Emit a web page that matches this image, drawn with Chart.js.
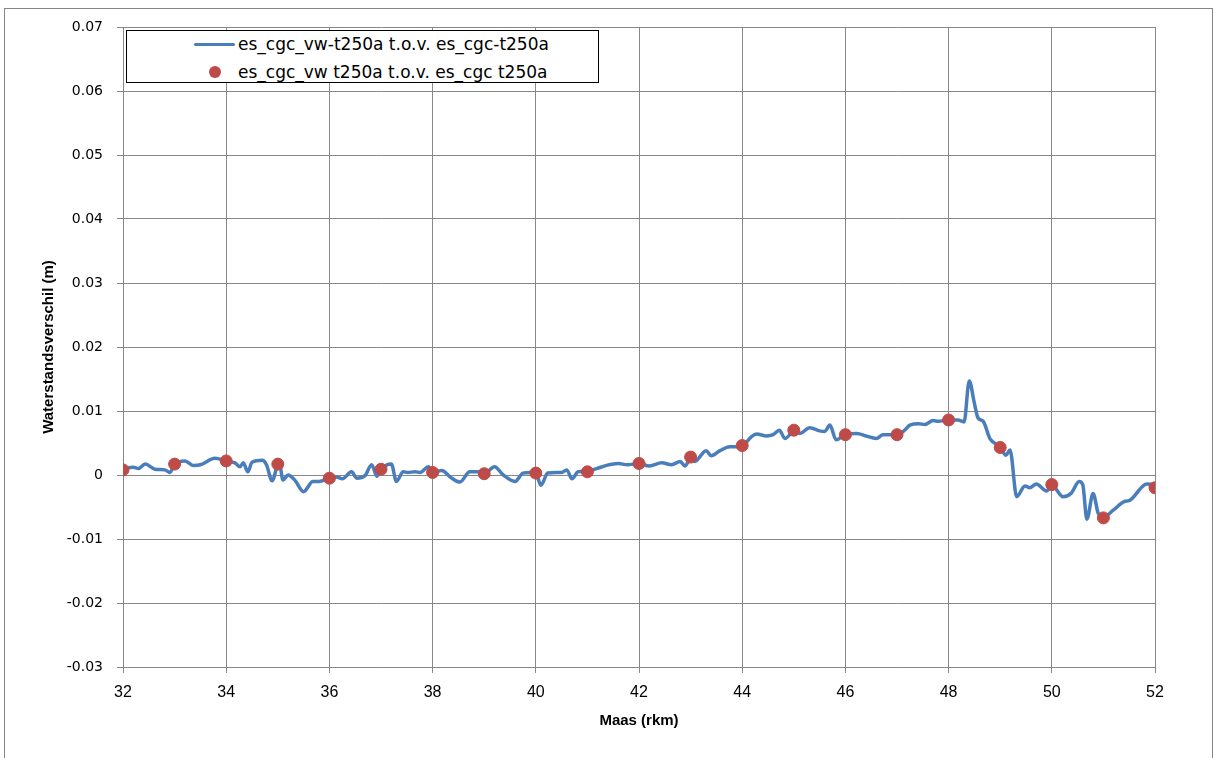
<!DOCTYPE html>
<html>
<head>
<meta charset="utf-8">
<script src="https://cdn.jsdelivr.net/npm/chart.js@4/dist/chart.umd.min.js"></script>
<style>
  html, body { margin: 0; padding: 0; background: #fff; }
  #wrap { position: relative; width: 1214px; height: 758px; }
  #legend {
    position: absolute; left: 126px; top: 30px; width: 471px; height: 51px;
    border: 1px solid #000; background: #fff; overflow: hidden;
    font: 17px "DejaVu Sans", Verdana, sans-serif; color: #000;
  }
  .row { position: absolute; left: 0; height: 20px; line-height: 20px; white-space: nowrap; }
  .row .txt { position: absolute; left: 111px; top: 0; }
  .row .ln { position: absolute; left: 67px; top: 9px; width: 41px; height: 3px; background: #4a7ebb; border-radius: 2px; }
  .row .dot { position: absolute; left: 82px; top: 4px; width: 12px; height: 12px; border-radius: 50%; background: #be4b48; }
</style>
</head>
<body>
<div id="wrap">
  <canvas id="chart" width="1214" height="758"></canvas>
  <div id="legend">
    <div class="row" style="top:3px"><span class="ln"></span><span class="txt">es_cgc_vw-t250a t.o.v. es_cgc-t250a</span></div>
    <div class="row" style="top:31px"><span class="dot"></span><span class="txt">es_cgc_vw t250a t.o.v. es_cgc t250a</span></div>
  </div>
</div>
<script>
// doorlopende lijn (rkm, waterstandsverschil in m)
const lineKm = [
  32.0, 32.2, 32.3, 32.43, 32.62, 32.81, 32.91, 33.0, 33.2, 33.36, 33.5, 33.78,
  34.0, 34.17, 34.27, 34.33, 34.42, 34.5, 34.7, 34.78, 34.89, 35.0, 35.03, 35.1,
  35.2, 35.33, 35.5, 35.68, 35.8, 36.0, 36.14, 36.25, 36.43, 36.53, 36.69, 36.82,
  36.92, 37.0, 37.2, 37.3, 37.43, 37.52, 37.66, 37.76, 37.92, 38.0, 38.18, 38.34,
  38.53, 38.72, 38.88, 39.0, 39.2, 39.37, 39.6, 39.75, 39.9, 40.0, 40.1, 40.23,
  40.4, 40.5, 40.6, 40.7, 40.82, 41.0, 41.18, 41.37, 41.6, 41.77, 42.0, 42.2,
  42.44, 42.63, 42.8, 42.89, 43.0, 43.08, 43.3, 43.4, 43.57, 43.76, 43.9, 44.0,
  44.18, 44.28, 44.47, 44.6, 44.72, 44.83, 45.0, 45.12, 45.31, 45.5, 45.6, 45.7,
  45.82, 46.0, 46.22, 46.4, 46.6, 46.73, 47.0, 47.15, 47.25, 47.42, 47.54, 47.7,
  47.8, 48.0, 48.18, 48.3, 48.4, 48.5, 48.57, 48.67, 48.8, 49.0, 49.11, 49.19,
  49.32, 49.48, 49.57, 49.7, 49.9, 50.0, 50.22, 50.38, 50.53, 50.6, 50.68, 50.8,
  50.9, 51.0, 51.19, 51.42, 51.5, 51.84, 52.0
];
const lineVal = [
  0.0010, 0.0012, 0.0010, 0.0017, 0.0009, 0.0008, 0.0004, 0.0017, 0.0022, 0.0015, 0.0016, 0.0026,
  0.0022, 0.0019, 0.0013, 0.0019, 0.0005, 0.0020, 0.0023, 0.0016, -0.0009, 0.0017, 0.0019, -0.0008,
  0.0000, -0.0008, -0.0026, -0.0010, -0.0010, -0.0005, -0.0003, -0.0006, 0.0005, -0.0005, -0.0001, 0.0016,
  -0.0002, 0.0009, 0.0017, -0.0010, 0.0005, 0.0004, 0.0005, 0.0004, 0.0013, 0.0004, 0.0007, -0.0003,
  -0.0011, 0.0005, 0.0005, 0.0002, 0.0013, 0.0000, -0.0010, 0.0003, 0.0004, 0.0003, -0.0016, 0.0003,
  0.0004, 0.0004, 0.0008, -0.0006, 0.0005, 0.0006, 0.0010, 0.0015, 0.0018, 0.0016, 0.0018, 0.0014,
  0.0019, 0.0016, 0.0021, 0.0014, 0.0026, 0.0021, 0.0038, 0.0030, 0.0038, 0.0044, 0.0044, 0.0045,
  0.0060, 0.0064, 0.0061, 0.0063, 0.0070, 0.0057, 0.0068, 0.0065, 0.0074, 0.0069, 0.0068, 0.0078,
  0.0055, 0.0063, 0.0065, 0.0061, 0.0057, 0.0063, 0.0063, 0.0070, 0.0078, 0.0080, 0.0079, 0.0085,
  0.0084, 0.0086, 0.0086, 0.0083, 0.0147, 0.0112, 0.0089, 0.0084, 0.0057, 0.0044, 0.0031, 0.0039,
  -0.0034, -0.0017, -0.0020, -0.0014, -0.0025, -0.0016, -0.0034, -0.0028, -0.0010, -0.0015, -0.0069, -0.0029,
  -0.0060, -0.0066, -0.0055, -0.0041, -0.0040, -0.0014, -0.0015
];

// punten per hele km
const dotKm  = [32, 33, 34, 35, 36, 37, 38, 39, 40, 41, 42, 43, 44, 45, 46, 47, 48, 49, 50, 51, 52];
const dotVal = [
  0.0008, 0.0017, 0.0022, 0.0017, -0.0005, 0.0009, 0.0004, 0.0002, 0.0003, 0.0005, 0.0018,
  0.0028, 0.0046, 0.0070, 0.0063, 0.0063, 0.0086, 0.0043, -0.0015, -0.0067, -0.0020
];

const seriesNames = [
  'es_cgc_vw-t250a t.o.v. es_cgc-t250a',
  'es_cgc_vw t250a t.o.v. es_cgc t250a'
];

const GRID = '#888888';

// kader rond de hele grafiek
const outerFrame = {
  id: 'outerFrame',
  beforeDraw(chart) {
    const c = chart.ctx;
    c.save();
    c.fillStyle = '#fff';
    c.fillRect(0, 0, chart.width, chart.height);
    c.strokeStyle = '#868686';
    c.lineWidth = 1;
    c.strokeRect(4.5, 8.5, 1208, 760);
    c.restore();
  }
};

new Chart(document.getElementById('chart'), {
  type: 'scatter',
  data: {
    datasets: [
      {
        label: seriesNames[0],
        data: lineKm.map((x, i) => ({ x, y: lineVal[i] })),
        showLine: true,
        borderColor: '#4a7ebb',
        borderWidth: 3.5,
        pointRadius: 0,
        cubicInterpolationMode: 'monotone',
        order: 2
      },
      {
        label: seriesNames[1],
        data: dotKm.map((x, i) => ({ x, y: dotVal[i] })),
        showLine: false,
        backgroundColor: '#be4b48',
        borderColor: '#be4b48',
        pointRadius: 6,
        order: 1
      }
    ]
  },
  options: {
    responsive: false,
    animation: false,
    layout: { padding: { left: 0, top: 27, right: 59, bottom: 0 } },
    plugins: {
      legend: { display: false },
      tooltip: { enabled: false }
    },
    scales: {
      x: {
        type: 'linear',
        min: 32, max: 52,
        afterFit: s => { s.height = 91; },
        ticks: {
          stepSize: 2,
          padding: 10,
          color: '#000',
          font: { family: '"Liberation Sans", Arial, sans-serif', size: 16 }
        },
        grid: { color: GRID, tickColor: GRID, tickLength: 6 },
        border: { color: GRID },
        title: {
          display: true,
          text: 'Maas (rkm)',
          color: '#000',
          padding: { top: 0, bottom: 28 },
          font: { family: '"Liberation Sans", Arial, sans-serif', size: 15, weight: 'bold' }
        }
      },
      y: {
        min: -0.03, max: 0.07,
        afterFit: s => { s.width = 123; },
        ticks: {
          stepSize: 0.01,
          padding: 14,
          color: '#000',
          font: { family: '"DejaVu Sans", Verdana, sans-serif', size: 14 },
          callback: v => String(Math.round(v * 100) / 100)
        },
        grid: { color: GRID, tickColor: GRID, tickLength: 6 },
        border: { color: GRID },
        title: {
          display: true,
          text: 'Waterstandsverschil (m)',
          color: '#000',
          padding: { top: 40, bottom: 0 },
          font: { family: '"Liberation Sans", Arial, sans-serif', size: 15, weight: 'bold' }
        }
      }
    }
  },
  plugins: [outerFrame]
});
</script>
</body>
</html>
